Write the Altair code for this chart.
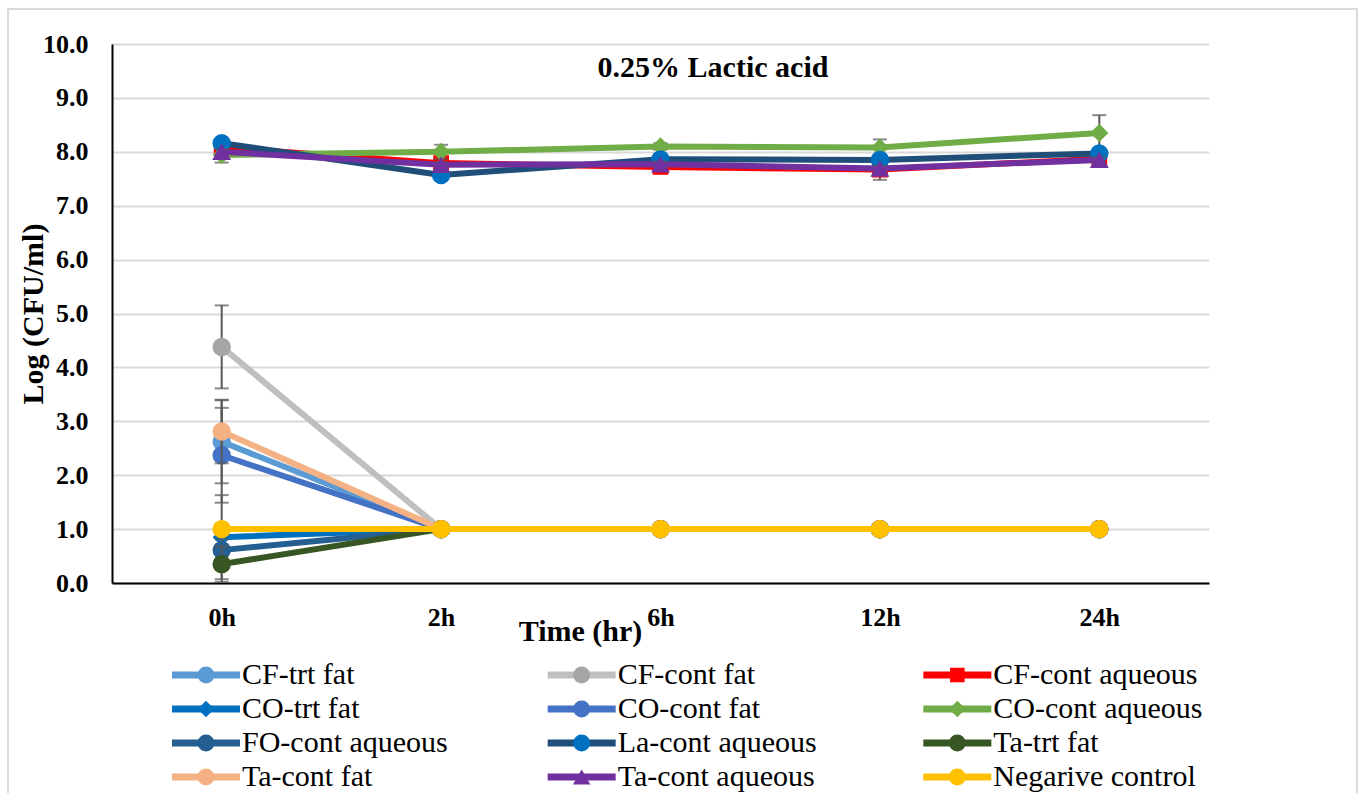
import altair as alt
import pandas as pd

times = ["0h", "2h", "6h", "12h", "24h"]
series = ["CF-trt fat", "CF-cont fat", "CF-cont aqueous",
          "CO-trt fat", "CO-cont fat", "CO-cont aqueous",
          "FO-cont aqueous", "La-cont aqueous", "Ta-trt fat",
          "Ta-cont fat", "Ta-cont aqueous", "Negarive control"]

cf_trt_fat = [2.62, 1.0, 1.0, 1.0, 1.0]
cf_cont_fat = [4.38, 1.0, 1.0, 1.0, 1.0]
cf_cont_aq = [8.08, 7.79, 7.72, 7.67, 7.87]
co_trt_fat = [0.85, 1.0, 1.0, 1.0, 1.0]
co_cont_fat = [2.37, 1.0, 1.0, 1.0, 1.0]
co_cont_aq = [7.94, 8.00, 8.10, 8.08, 8.35]
fo_cont_aq = [0.61, 1.0, 1.0, 1.0, 1.0]
la_cont_aq = [8.16, 7.57, 7.86, 7.85, 7.97]
ta_trt_fat = [0.35, 1.0, 1.0, 1.0, 1.0]
ta_cont_fat = [2.81, 1.0, 1.0, 1.0, 1.0]
ta_cont_aq = [8.00, 7.76, 7.77, 7.69, 7.85]
neg_control = [1.0, 1.0, 1.0, 1.0, 1.0]

cf_trt_fat_err = [0.77, 0, 0, 0, 0]
cf_cont_fat_err = [0.77, 0, 0, 0, 0]
cf_cont_aq_err = [0.05, 0.05, 0.05, 0.19, 0.05]
co_trt_fat_err = [0.78, 0, 0, 0, 0]
co_cont_fat_err = [0.88, 0, 0, 0, 0]
co_cont_aq_err = [0.14, 0.13, 0.06, 0.15, 0.33]
fo_cont_aq_err = [0.20, 0, 0, 0, 0]
la_cont_aq_err = [0.05, 0.06, 0.05, 0.05, 0.05]
ta_trt_fat_err = [0.33, 0, 0, 0, 0]
ta_cont_fat_err = [0.59, 0, 0, 0, 0]
ta_cont_aq_err = [0.05, 0.05, 0.05, 0.05, 0.05]
neg_control_err = [0, 0, 0, 0, 0]

values_list = [cf_trt_fat, cf_cont_fat, cf_cont_aq, co_trt_fat, co_cont_fat, co_cont_aq,
               fo_cont_aq, la_cont_aq, ta_trt_fat, ta_cont_fat, ta_cont_aq, neg_control]
errors_list = [cf_trt_fat_err, cf_cont_fat_err, cf_cont_aq_err, co_trt_fat_err, co_cont_fat_err,
               co_cont_aq_err, fo_cont_aq_err, la_cont_aq_err, ta_trt_fat_err, ta_cont_fat_err,
               ta_cont_aq_err, neg_control_err]

line_colors = ["#5B9BD5", "#BFBFBF", "#FF0000", "#0070C0", "#4472C4", "#70AD47",
               "#255E91", "#1F4E79", "#375623", "#F4B183", "#7030A0", "#FFC000"]
marker_colors = ["#5B9BD5", "#A5A5A5", "#FF0000", "#0070C0", "#4472C4", "#70AD47",
                 "#255E91", "#0070C0", "#375623", "#F4B183", "#7030A0", "#FFC000"]
shapes = ["circle", "circle", "square", "diamond", "circle", "diamond",
          "circle", "circle", "circle", "circle", "triangle-up", "circle"]
marker_sizes = {"circle": 340, "square": 250, "diamond": 330, "triangle-up": 360}

chart_title = "0.25% Lactic acid"
FONT = "Liberation Serif"

rows = []
for name, vals, errs in zip(series, values_list, errors_list):
    for t, v, e in zip(times, vals, errs):
        rows.append({"series": name, "time": t, "value": v, "err": e,
                     "lo": v - e, "hi": v + e})
df = pd.DataFrame(rows)

x_axis = alt.Axis(title="Time (hr)", labelFont=FONT, labelFontWeight="bold", labelFontSize=26,
                  labelColor="black", labelPadding=21, labelAngle=0, ticks=False, tickSize=0,
                  domainColor="black", domainWidth=2, grid=False,
                  titleFont=FONT, titleFontWeight="bold", titleFontSize=30, titleColor="black",
                  titleX=468, titleY=57, titleBaseline="alphabetic", titleAlign="center")
y_axis = alt.Axis(title="Log (CFU/ml)", values=[0, 1, 2, 3, 4, 5, 6, 7, 8, 9, 10], format=".1f",
                  labelFont=FONT, labelFontWeight="bold", labelFontSize=26, labelColor="black",
                  labelPadding=24, ticks=False, tickSize=0, domainColor="black", domainWidth=2,
                  gridColor="#D9D9D9", gridWidth=2,
                  titleFont=FONT, titleFontWeight="bold", titleFontSize=30, titleColor="black",
                  titleX=-70, titleY=269.5, titleAngle=270, titleBaseline="alphabetic",
                  titleAlign="center")

x_scale = alt.Scale(type="point", domain=times, padding=0.5)
y_scale = alt.Scale(domain=[0, 10])


def X():
    return alt.X("time:N", scale=x_scale, axis=x_axis, sort=times)


def Y(field):
    return alt.Y(f"{field}:Q", scale=y_scale, axis=y_axis)


layers = []
frame_df = pd.DataFrame({"k": [0]})
layers.append(alt.Chart(frame_df).mark_rect(fillOpacity=0, stroke="#D9D9D9", strokeWidth=2).encode(
    x=alt.value(-104), x2=alt.value(1245), y=alt.value(-35), y2=alt.value(770)))

for i, name in enumerate(series):
    sd = df[df["series"] == name]
    ed = sd[sd["err"] > 0]
    base = alt.Chart(sd)
    layers.append(base.mark_line(strokeWidth=6, color=line_colors[i], strokeCap="round",
                                 strokeJoin="round").encode(x=X(), y=Y("value")))
    if len(ed):
        eb = alt.Chart(ed)
        layers.append(eb.mark_rule(color="#595959", strokeWidth=2).encode(
            x=X(), y=Y("lo"), y2="hi:Q"))
        layers.append(eb.mark_tick(color="#595959", thickness=2, size=14, orient="horizontal").encode(
            x=X(), y=Y("lo")))
        layers.append(eb.mark_tick(color="#595959", thickness=2, size=14, orient="horizontal").encode(
            x=X(), y=Y("hi")))
    layers.append(base.mark_point(filled=True, opacity=1, shape=shapes[i],
                                  size=marker_sizes[shapes[i]], color=marker_colors[i]).encode(
        x=X(), y=Y("value")))

title_df = pd.DataFrame({"label": [chart_title]})
layers.append(alt.Chart(title_df).mark_text(font=FONT, fontWeight="bold", fontSize=30, color="black",
                                            align="center", baseline="alphabetic").encode(
    x=alt.value(601), y=alt.value(33), text="label:N"))

main = alt.layer(*layers)

# legend
leg = pd.DataFrame({"name": series,
                    "col": [i % 3 for i in range(len(series))],
                    "row": [i // 3 for i in range(len(series))]})
leg_sizes = [marker_sizes[s] * 0.85 for s in shapes]
leg["msize"] = leg_sizes
lx = alt.X("col:Q", scale=alt.Scale(domain=[0, 3], range=[60, 1187]), axis=None)
lx2 = alt.X2("col:Q")
ly = alt.Y("row:Q", scale=alt.Scale(domain=[0, 3], range=[631, 733]), axis=None)
lbase = alt.Chart(leg)
leg_line = lbase.mark_rule(strokeWidth=7, x2Offset=68).encode(
    x=lx, x2=lx2, y=ly,
    color=alt.Color("name:N", scale=alt.Scale(domain=series, range=line_colors), legend=None))
leg_pt = lbase.mark_point(filled=True, opacity=1, xOffset=34).encode(
    x=lx, y=ly,
    size=alt.Size("msize:Q", scale=None, legend=None),
    fill=alt.Fill("name:N", scale=alt.Scale(domain=series, range=marker_colors), legend=None),
    shape=alt.Shape("name:N", scale=alt.Scale(domain=series, range=shapes), legend=None))
leg_txt = lbase.mark_text(align="left", baseline="middle", dx=70, font=FONT, fontSize=30,
                          color="black").encode(x=lx, y=ly, text="name:N")
legend = alt.layer(leg_line, leg_pt, leg_txt)

chart = alt.layer(main, legend).resolve_scale(x="independent", y="independent").properties(
    width=1097, height=539,
    autosize=alt.AutoSizeParams(type="none"),
    padding={"left": 112, "top": 44, "right": 150, "bottom": 210},
    background="white",
).configure_view(stroke="transparent")

chart.save("out.html", embed_options={"renderer": "svg", "actions": False})
